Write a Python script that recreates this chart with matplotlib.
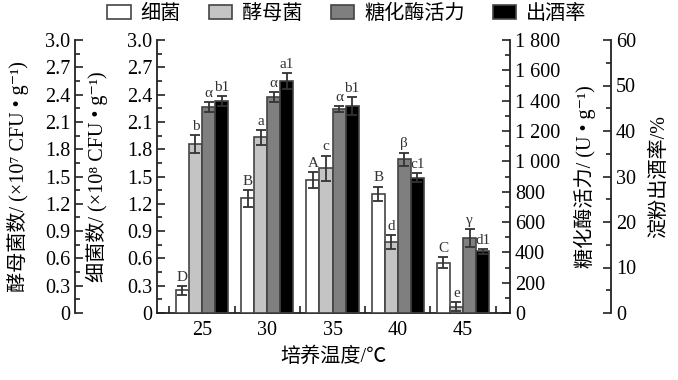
import numpy as np
import matplotlib
matplotlib.use('Agg')
import matplotlib.pyplot as plt
from matplotlib.ticker import MultipleLocator, FixedLocator, FixedFormatter
from matplotlib.patches import Patch

plt.rcParams['font.family'] = ['Liberation Serif', 'Noto Sans CJK SC', 'DejaVu Serif']

temps = ['25', '30', '35', '40', '45']
bacteria = [0.25, 1.26, 1.46, 1.31, 0.55]
bacteria_err = [0.05, 0.09, 0.09, 0.08, 0.06]
bacteria_lbl = ['D', 'B', 'A', 'B', 'C']
yeast = [1.86, 1.93, 1.59, 0.78, 0.07]
yeast_err = [0.10, 0.08, 0.14, 0.08, 0.05]
yeast_lbl = ['b', 'a', 'c', 'd', 'e']
enzyme = [1358, 1424, 1345, 1015, 494]
enzyme_err = [33, 30, 20, 43, 59]
enzyme_lbl = ['α', 'α', 'α', 'β', 'γ']
wine_yield = [46.6, 51.0, 45.5, 29.7, 13.6]
wine_yield_err = [1.1, 1.8, 2.0, 1.0, 0.55]
wine_yield_lbl = ['b1', 'a1', 'b1', 'c1', 'd1']
enzyme_ticks = [0, 200, 400, 600, 800, 1000, 1200, 1400, 1600, 1800]
enzyme_ticklabels = ['0', '200', '400', '600', '800', '1 000', '1 200', '1 400', '1 600', '1 800']

W, H = 678, 380
fig = plt.figure(figsize=(W / 100, H / 100), dpi=100)
L, R, T, B = 157, 510, 40, 313
ax = fig.add_axes([L / W, 1 - B / H, (R - L) / W, (B - T) / H])
axw = R - L

ax_y = ax.twinx()
ax_e = ax.twinx()
ax_w = ax.twinx()

TFS = 14.5
LFS = 14.5
tick_col = '#222222'
edge = '#444444'
ecol = '#333333'

x = np.arange(len(temps))
bw = 0.2
offs = [-1.5 * bw, -0.5 * bw, 0.5 * bw, 1.5 * bw]

series = [
    (ax, bacteria, bacteria_err, bacteria_lbl, 'white'),
    (ax_y, yeast, yeast_err, yeast_lbl, '#c4c4c4'),
    (ax_e, enzyme, enzyme_err, enzyme_lbl, '#7f7f7f'),
    (ax_w, wine_yield, wine_yield_err, wine_yield_lbl, 'black'),
]
for (a, vals, errs, lbls, col), off in zip(series, offs):
    a.bar(x + off, vals, bw, color=col, edgecolor=edge, linewidth=1.2, zorder=3)
    a.errorbar(x + off, vals, yerr=errs, fmt='none', ecolor=ecol, elinewidth=1.3,
               capsize=3.5, capthick=1.3, zorder=4)
    for xi, v, e, t in zip(x + off, vals, errs, lbls):
        a.annotate(t, (xi, v + e), xytext=(0, 1.5), textcoords='offset points',
                   ha='center', va='bottom', fontsize=11, color='#333333')

fmt1 = matplotlib.ticker.FuncFormatter(lambda v, p: '0' if abs(v) < 1e-9 else f'{v:.1f}')

# main axis (bacteria)
ax.set_xlim(-0.69, 4.72)
ax.set_ylim(0, 3.0)
ax.set_xticks(x)
ax.set_xticklabels(temps)
ax.xaxis.set_minor_locator(FixedLocator(np.arange(-0.5, 5.0, 1.0)))
ax.tick_params(axis='x', which='major', length=0, labelsize=TFS, pad=6)
ax.tick_params(axis='x', which='minor', direction='in', length=5, width=1.2, color=tick_col)
ax.yaxis.set_major_locator(MultipleLocator(0.3))
ax.yaxis.set_minor_locator(MultipleLocator(0.15))
ax.yaxis.set_major_formatter(fmt1)
ax.tick_params(axis='y', which='major', direction='in', length=6, width=1.2, labelsize=TFS, color=tick_col)
ax.tick_params(axis='y', which='minor', direction='in', length=3.5, width=1.2, color=tick_col)
for s in ['top', 'right']:
    ax.spines[s].set_visible(False)
for s in ['left', 'bottom']:
    ax.spines[s].set_linewidth(1.3)
    ax.spines[s].set_color(tick_col)

ax.set_xlabel('培养温度/℃', fontsize=LFS, labelpad=5)
ax.set_ylabel('细菌数/ (×10⁸ CFU • g⁻¹)', fontsize=LFS)
ax.yaxis.set_label_coords((97 - L) / axw, 0.5)
ax.yaxis.label.set_verticalalignment('center')

# outer left (yeast)
ax_y.set_ylim(0, 3.0)
for s in ['top', 'right', 'bottom']:
    ax_y.spines[s].set_visible(False)
ax_y.spines['left'].set_visible(True)
ax_y.spines['left'].set_position(('axes', (75 - L) / axw))
ax_y.spines['left'].set_linewidth(1.3)
ax_y.spines['left'].set_color(tick_col)
ax_y.yaxis.set_ticks_position('left')
ax_y.yaxis.set_label_position('left')
ax_y.yaxis.set_major_locator(MultipleLocator(0.3))
ax_y.yaxis.set_minor_locator(MultipleLocator(0.15))
ax_y.yaxis.set_major_formatter(fmt1)
ax_y.tick_params(axis='y', which='major', direction='in', length=6, width=1.2, labelsize=TFS, color=tick_col)
ax_y.tick_params(axis='y', which='minor', direction='in', length=3.5, width=1.2, color=tick_col)
ax_y.set_ylabel('酵母菌数/ (×10⁷ CFU • g⁻¹)', fontsize=LFS)
ax_y.yaxis.set_label_coords((18 - L) / axw, 0.5)
ax_y.yaxis.label.set_verticalalignment('center')

# right inner (enzyme)
ax_e.set_ylim(0, 1800)
for s in ['top', 'left', 'bottom']:
    ax_e.spines[s].set_visible(False)
ax_e.spines['right'].set_linewidth(1.3)
ax_e.spines['right'].set_color(tick_col)
ax_e.yaxis.set_major_locator(FixedLocator(enzyme_ticks))
ax_e.yaxis.set_major_formatter(FixedFormatter(enzyme_ticklabels))
ax_e.yaxis.set_minor_locator(MultipleLocator(100))
ax_e.tick_params(axis='y', which='major', direction='in', length=6, width=1.2, labelsize=TFS, color=tick_col)
ax_e.tick_params(axis='y', which='minor', direction='in', length=3.5, width=1.2, color=tick_col)
ax_e.set_ylabel('糖化酶活力/ (U • g⁻¹)', fontsize=LFS)
ax_e.yaxis.set_label_coords((585 - L) / axw, 0.5)
ax_e.yaxis.label.set_verticalalignment('center')
ax_e.yaxis.label.set_rotation(90)

# right outer (wine yield)
ax_w.set_ylim(0, 60)
for s in ['top', 'left', 'bottom']:
    ax_w.spines[s].set_visible(False)
ax_w.spines['right'].set_position(('axes', (611 - L) / axw))
ax_w.spines['right'].set_linewidth(1.3)
ax_w.spines['right'].set_color(tick_col)
ax_w.yaxis.set_major_locator(MultipleLocator(10))
ax_w.yaxis.set_minor_locator(MultipleLocator(5))
ax_w.tick_params(axis='y', which='major', direction='in', length=6, width=1.2, labelsize=TFS, color=tick_col)
ax_w.tick_params(axis='y', which='minor', direction='in', length=3.5, width=1.2, color=tick_col)
ax_w.set_ylabel('淀粉出酒率/%', fontsize=LFS)
ax_w.yaxis.set_label_coords((660 - L) / axw, 0.5)
ax_w.yaxis.label.set_verticalalignment('center')
ax_w.yaxis.label.set_rotation(90)

handles = [Patch(facecolor=c, edgecolor=edge, linewidth=1.2) for c in ['white', '#c4c4c4', '#7f7f7f', 'black']]
fig.legend(handles, ['细菌', '酵母菌', '糖化酶活力', '出酒率'], ncol=4, loc='upper center',
           bbox_to_anchor=(347 / W, 1.03), frameon=False, fontsize=14.5,
           handlelength=1.15, handleheight=0.65, columnspacing=1.4, handletextpad=0.5,
           borderpad=0.3)

fig.savefig('out.png', dpi=100)
